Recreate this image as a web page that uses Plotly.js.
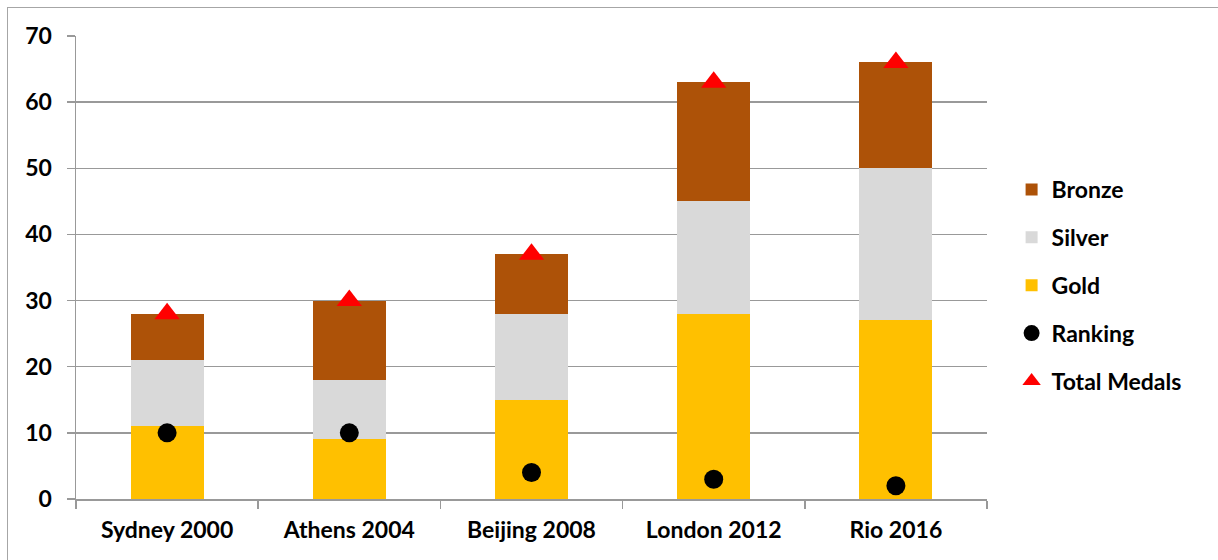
<!DOCTYPE html>
<html><head><meta charset="utf-8">
<script src="https://cdn.plot.ly/plotly-3.0.1.min.js"></script>
<style>html,body{margin:0;padding:0;background:#fff}#frame{position:absolute;left:7px;top:7px;width:1220px;height:560px;border-left:1.5px solid #a6a6a6;border-top:1.5px solid #a6a6a6;pointer-events:none}#chart{width:1218px;height:560px}</style>
</head><body>
<div id="chart"></div><div id="frame"></div>
<script>
const games = ["Sydney 2000","Athens 2004","Beijing 2008","London 2012","Rio 2016"];
const gold = [11, 9, 15, 28, 27];
const silver = [10, 9, 13, 17, 23];
const bronze = [7, 12, 9, 18, 16];
const ranking = [10, 10, 4, 3, 2];
const totalMedals = [28, 30, 37, 63, 66];
const yTicks = [0,10,20,30,40,50,60,70];

const fam = "Lato, 'Open Sans', sans-serif";
const tickFont = {family:fam, size:23, weight:"bold", color:"#000"};
const traces = [
  {type:"bar", name:"Gold", x:games, y:gold, marker:{color:"#FFC000"}, width:0.4, legendrank:3, legendgroup:"g"},
  {type:"bar", name:"Silver", x:games, y:silver, marker:{color:"#D9D9D9"}, width:0.4, legendrank:2, legendgroup:"s"},
  {type:"bar", name:"Bronze", x:games, y:bronze, marker:{color:"#AD5208"}, width:0.4, legendrank:1, legendgroup:"b"},
  {type:"scatter", mode:"markers", name:"Ranking", x:games, y:ranking, marker:{color:"#000", size:19, symbol:"circle"}, legendrank:4, legendgroup:"r"},
  {type:"scatter", mode:"markers", name:"Total Medals", x:games, y:totalMedals, marker:{color:"#FF0000", size:22, symbol:"triangle-up"}, legendrank:5, legendgroup:"t"}
];
const layout = {
  width:1218, height:560,
  margin:{l:76, r:231, t:36, b:61},
  barmode:"stack",
  paper_bgcolor:"#fff", plot_bgcolor:"#fff",
  font:{family:fam, size:20, color:"#000"},
  showlegend:true,
  legend:{x:1.027, xanchor:"left", y:0.715, yanchor:"top", font:{family:fam, size:23, weight:"bold", color:"#000"}, tracegroupgap:15, traceorder:"grouped", itemwidth:30},
  xaxis:{tickfont:tickFont, showline:true, linecolor:"#999", linewidth:1.5, ticks:"outside", tickson:"boundaries", ticklen:8, tickcolor:"#999", tickwidth:1.5, ticklabelstandoff:10, showgrid:false, fixedrange:true},
  yaxis:{range:[0,70], tickvals:yTicks, tickfont:tickFont, showline:true, linecolor:"#999", linewidth:1.5, ticks:"outside", ticklen:8, tickcolor:"#999", tickwidth:1.5, ticklabelstandoff:10, gridcolor:"#999", gridwidth:1.5, zeroline:false, fixedrange:true}
};
Plotly.newPlot("chart", traces, layout, {displayModeBar:false, staticPlot:true});
</script>
</body></html>
